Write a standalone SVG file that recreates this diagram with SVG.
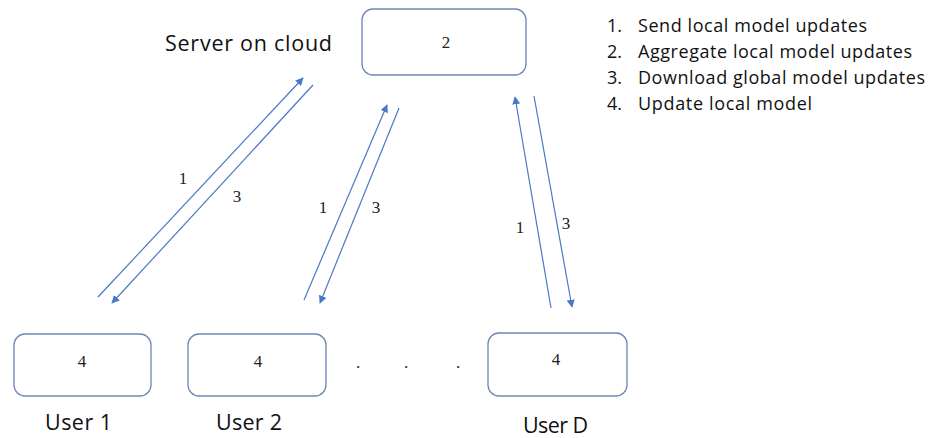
<svg xmlns="http://www.w3.org/2000/svg" width="930" height="438" viewBox="0 0 930 438">
  <style>
    .box { fill: #ffffff; stroke: #6f86b8; stroke-width: 1.3; }
    .num { font-family: "Liberation Serif", "DejaVu Serif", serif; font-size: 17px; fill: #222222; text-anchor: middle; }
    .lbl { font-family: "Open Sans", "Liberation Sans", sans-serif; font-size: 21.5px; fill: #111111; }
    .legend { font-family: "Open Sans", "Liberation Sans", sans-serif; font-size: 18px; fill: #111111; }
    .link { stroke: #4a78c8; stroke-width: 1.2; fill: none; marker-end: url(#head); }
  </style>
  <defs>
    <marker id="head" viewBox="0 0 10 10" refX="9" refY="5" markerWidth="8" markerHeight="8" markerUnits="userSpaceOnUse" orient="auto">
      <path d="M0,0 L10,5 L0,10 z" fill="#4a78c8"/>
    </marker>
  </defs>
  <rect width="930" height="438" fill="#ffffff"/>

  <!-- server -->
  <g id="server">
    <rect class="box" x="362" y="9" width="164" height="66" rx="11"/>
    <text class="num" x="446" y="48">2</text>
    <text class="lbl" x="165" y="51" textLength="167">Server on cloud</text>
  </g>

  <!-- clients -->
  <g id="user1">
    <rect class="box" x="14" y="334" width="137" height="62" rx="11"/>
    <text class="num" x="82" y="367">4</text>
    <text class="lbl" x="45" y="430" textLength="67">User 1</text>
  </g>
  <g id="user2">
    <rect class="box" x="188" y="334" width="138" height="62" rx="11"/>
    <text class="num" x="258" y="367">4</text>
    <text class="lbl" x="216" y="430" textLength="66">User 2</text>
  </g>
  <g id="userD">
    <rect class="box" x="488" y="333" width="139" height="63" rx="11"/>
    <text class="num" x="556" y="365">4</text>
    <text class="lbl" x="523" y="433" textLength="65">User D</text>
  </g>

  <!-- ellipsis between clients -->
  <g id="ellipsis">
    <text class="num" x="358" y="368">.</text>
    <text class="num" x="406" y="368">.</text>
    <text class="num" x="458" y="368">.</text>
  </g>

  <!-- upload / download arrows -->
  <g id="connectors">
    <line class="link" x1="98" y1="297" x2="303" y2="78"/>
    <line class="link" x1="313" y1="85" x2="112" y2="303"/>
    <line class="link" x1="304" y1="300" x2="387" y2="105"/>
    <line class="link" x1="399" y1="108" x2="320" y2="303"/>
    <line class="link" x1="551" y1="308" x2="515" y2="97"/>
    <line class="link" x1="534" y1="96" x2="572" y2="307"/>
    <text class="num" x="183" y="184">1</text>
    <text class="num" x="237" y="202">3</text>
    <text class="num" x="323" y="213">1</text>
    <text class="num" x="376" y="213">3</text>
    <text class="num" x="520" y="233">1</text>
    <text class="num" x="566" y="229">3</text>
  </g>

  <!-- step legend -->
  <g id="legend">
    <text class="legend" x="607" y="32">1.</text>
    <text class="legend" x="638" y="32" textLength="229">Send local model updates</text>
    <text class="legend" x="607" y="58">2.</text>
    <text class="legend" x="638" y="58" textLength="274">Aggregate local model updates</text>
    <text class="legend" x="607" y="84">3.</text>
    <text class="legend" x="638" y="84" textLength="287">Download global model updates</text>
    <text class="legend" x="607" y="110">4.</text>
    <text class="legend" x="638" y="110" textLength="174">Update local model</text>
  </g>
</svg>
